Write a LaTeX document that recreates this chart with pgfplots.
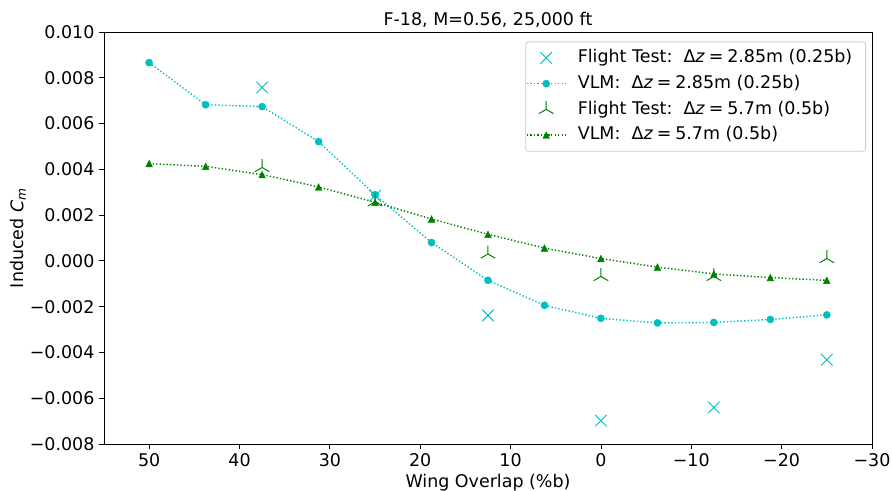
\documentclass[border=0pt]{standalone}
\usepackage{pgfplots}
\pgfplotsset{compat=1.18}
\usepackage{fontspec}
\setmainfont{DejaVu Sans}
\definecolor{mplc}{rgb}{0,0.75,0.75}
\definecolor{mplg}{rgb}{0,0.5,0}
\newcommand{\mplfont}{\fontsize{13.1}{15.7}\selectfont}
\pgfdeclareplotmark{mx}{%
  \pgfpathmoveto{\pgfqpoint{-\pgfplotmarksize}{-\pgfplotmarksize}}%
  \pgfpathlineto{\pgfqpoint{\pgfplotmarksize}{\pgfplotmarksize}}%
  \pgfpathmoveto{\pgfqpoint{-\pgfplotmarksize}{\pgfplotmarksize}}%
  \pgfpathlineto{\pgfqpoint{\pgfplotmarksize}{-\pgfplotmarksize}}%
  \pgfusepathqstroke}
\pgfdeclareplotmark{triup}{%
  \pgfpathmoveto{\pgfqpoint{0pt}{0pt}}%
  \pgfpathlineto{\pgfqpoint{0pt}{\pgfplotmarksize}}%
  \pgfpathmoveto{\pgfqpoint{0pt}{0pt}}%
  \pgfpathlineto{\pgfqpoint{-0.866\pgfplotmarksize}{-0.5\pgfplotmarksize}}%
  \pgfpathmoveto{\pgfqpoint{0pt}{0pt}}%
  \pgfpathlineto{\pgfqpoint{0.866\pgfplotmarksize}{-0.5\pgfplotmarksize}}%
  \pgfusepathqstroke}
\pgfdeclareplotmark{mtri}{%
  \pgfpathmoveto{\pgfqpoint{0pt}{\pgfplotmarksize}}%
  \pgfpathlineto{\pgfqpoint{-\pgfplotmarksize}{-\pgfplotmarksize}}%
  \pgfpathlineto{\pgfqpoint{\pgfplotmarksize}{-\pgfplotmarksize}}%
  \pgfpathclose\pgfusepathqfillstroke}

\pgfplotstableread{
x y
37.5 0.00758
25 0.00285
12.5 -0.00238
0 -0.00698
-12.5 -0.00640
-25 -0.00432
}\ftA
\pgfplotstableread{
x y
50 0.00866
43.75 0.00682
37.5 0.00674
31.25 0.00521
25 0.00289
18.75 0.00080
12.5 -0.00085
6.25 -0.00194
0 -0.00251
-6.25 -0.00271
-12.5 -0.00269
-18.75 -0.00256
-25 -0.00236
}\vlmA
\pgfplotstableread{
x y
37.5 0.00408
25 0.00258
12.5 0.00030
0 -0.00068
-12.5 -0.00068
-25 0.00010
}\ftB
\pgfplotstableread{
x y
50 0.00425
43.75 0.00413
37.5 0.00377
31.25 0.00323
25 0.00256
18.75 0.00183
12.5 0.00116
6.25 0.00056
0 0.00010
-6.25 -0.00027
-12.5 -0.00057
-18.75 -0.00073
-25 -0.00085
}\vlmB

\begin{document}
\begin{tikzpicture}[font=\mplfont]
\path[use as bounding box] (-78pt,-35.25pt) rectangle (591pt,333pt);
\begin{axis}[
  scale only axis,
  width=576pt, height=309pt,
  x dir=reverse,
  xmin=-30, xmax=55,
  ymin=-0.008, ymax=0.010,
  xtick={-30,-20,-10,0,10,20,30,40,50},
  xticklabels={−30,−20,−10,0,10,20,30,40,50},
  ytick={-0.008,-0.006,-0.004,-0.002,0,0.002,0.004,0.006,0.008,0.010},
  yticklabels={−0.008,−0.006,−0.004,−0.002,0.000,0.002,0.004,0.006,0.008,0.010},
  scaled y ticks=false,
  tick label style={font=\mplfont},
  label style={font=\mplfont},
  tick align=outside,
  major tick length=3.6pt,
  xtick pos=left, ytick pos=left,
  tick style={black, line width=0.6pt},
  axis line style={line width=0.6pt},
  xlabel={Wing Overlap (\%b)},
  ylabel={Induced \textit{C}\textsubscript{\textit{m}}},
  xlabel style={at={(axis description cs:0.5,-0.093)}, anchor=center},
  ylabel style={at={(axis description cs:-0.112,0.5)}, anchor=center},
  legend cell align=left,
  legend image code/.code={\draw[mark repeat=2,mark phase=2,#1] plot coordinates {(0cm,0cm) (0.51cm,0cm) (1.02cm,0cm)};},
  legend style={at={(axis description cs:0.9922,0.977)}, anchor=north east,
    draw=black!20, rounded corners=2pt, line width=0.6pt,
    row sep=0pt, inner xsep=0.3pt, inner ysep=2.4pt, font=\mplfont,
    nodes={inner sep=2.15pt, text height=11pt, text depth=4pt},
    /tikz/every odd column/.append style={column sep=6.5pt}},
]
\addplot[only marks, mark=mx, mark size=4.3pt, mplc, line width=0.7pt] table {\ftA};
\addlegendentry{Flight Test:\ \ Δ\textit{z}\hspace{0.22em}=\hspace{0.22em}2.85m (0.25b)\hspace*{7.5pt}}
\addplot[mplc, line width=1.1pt, dash pattern=on 1pt off 1.6pt, mark=*, mark size=2.7pt, mark options={solid, line width=0.3pt}] table {\vlmA};
\addlegendentry{VLM:\ \ Δ\textit{z}\hspace{0.22em}=\hspace{0.22em}2.85m (0.25b)}
\addplot[only marks, mark=triup, mark size=6.3pt, mplg, line width=0.75pt] table {\ftB};
\addlegendentry{Flight Test:\ \ Δ\textit{z}\hspace{0.22em}=\hspace{0.22em}5.7m (0.5b)}
\addplot[mplg, line width=1.1pt, dash pattern=on 1pt off 1.6pt, mark=mtri, mark size=2.5pt, mark options={solid, line width=0.3pt}] table {\vlmB};
\addlegendentry{VLM:\ \ Δ\textit{z}\hspace{0.22em}=\hspace{0.22em}5.7m (0.5b)}
\end{axis}
\node[anchor=base, font=\mplfont] at (288pt,313.5pt) {F-18, M=0.56, 25,000 ft};
\end{tikzpicture}
\end{document}
